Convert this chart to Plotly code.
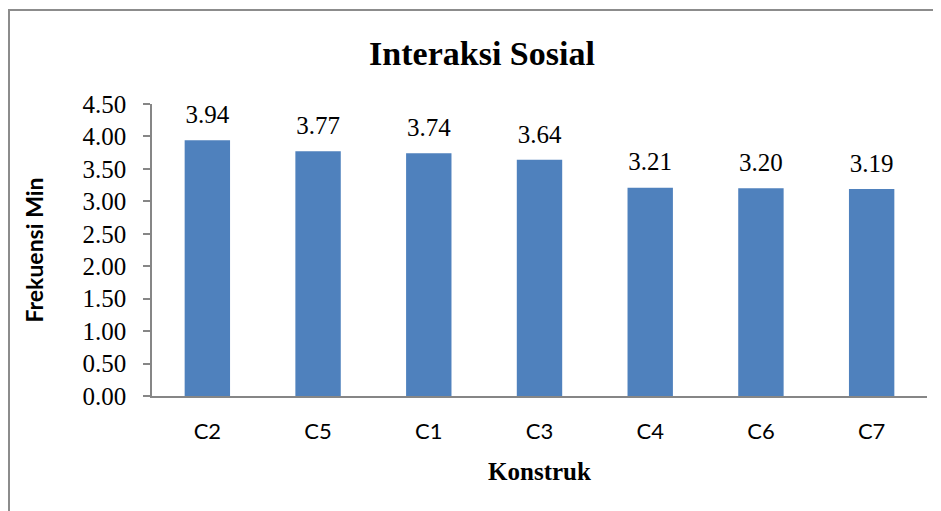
import plotly.graph_objects as go

categories = ["C2", "C5", "C1", "C3", "C4", "C6", "C7"]
values = [3.94, 3.77, 3.74, 3.64, 3.21, 3.20, 3.19]
y_ticks = [0, 0.5, 1.0, 1.5, 2.0, 2.5, 3.0, 3.5, 4.0, 4.5]

SERIF = "Liberation Serif, Times New Roman, serif"

# page has an 8px body margin, so figure is sized to the visible area
OFF = 8
W, H = 941 - OFF, 511 - OFF
ml, mr, mt, mb = 152 - OFF, 14, 104 - OFF, 511 - 396
pw, ph = W - ml - mr, H - mt - mb

fig = go.Figure()
fig.add_trace(go.Bar(
    x=categories, y=values,
    marker=dict(color="#4f81bd", line=dict(width=0)),
    hoverinfo="x+y",
))
# value labels placed above bars
fig.add_trace(go.Scatter(
    x=categories, y=values,
    mode="markers+text",
    marker=dict(size=16, opacity=0),
    text=[f"{v:.2f}" for v in values],
    textposition="top center",
    textfont=dict(family=SERIF, size=25, color="#000"),
    cliponaxis=False,
    hoverinfo="skip",
))

fig.update_layout(
    width=W, height=H,
    margin=dict(l=ml, r=mr, t=mt, b=mb),
    paper_bgcolor="white", plot_bgcolor="white",
    bargap=0.59,
    showlegend=False,
    title=dict(text="<b>Interaksi Sosial</b>", x=(482 - OFF) / W, xanchor="center",
               y=1 - (53 - OFF) / H, yanchor="middle",
               font=dict(family=SERIF, size=34, color="#000")),
    xaxis=dict(
        showline=True, linecolor="#868686", linewidth=1.5,
        ticks="", showgrid=False, ticklabelstandoff=15,
        tickfont=dict(family="Lato", size=22, color="#000"),
        title=dict(text="<b>Konstruk</b>", standoff=19,
                   font=dict(family=SERIF, size=25, color="#000")),
    ),
    yaxis=dict(
        range=[0, 4.5], tickvals=y_ticks, ticktext=[f"{t:.2f}" for t in y_ticks],
        showline=True, linecolor="#868686", linewidth=1.5,
        ticks="outside", ticklen=7, tickcolor="#868686", tickwidth=1.5,
        showgrid=False, zeroline=False, ticklabelstandoff=12,
        tickfont=dict(family=SERIF, size=25, color="#000"),
        title=dict(text="<b>Frekuensi Min</b>", standoff=32,
                   font=dict(family="Lato", size=23, color="#000")),
    ),
)

# outer chart-area border (partially outside the visible page like the reference)
fig.add_shape(type="rect", xref="paper", yref="paper",
              x0=(9 - OFF - ml) / pw, x1=(980 - ml) / pw,
              y0=(mt + ph - 560) / ph, y1=(mt + ph - (10 - OFF)) / ph,
              line=dict(color="#8c8c8c", width=2), fillcolor="rgba(0,0,0,0)",
              layer="below")

fig.write_html("out.html")
